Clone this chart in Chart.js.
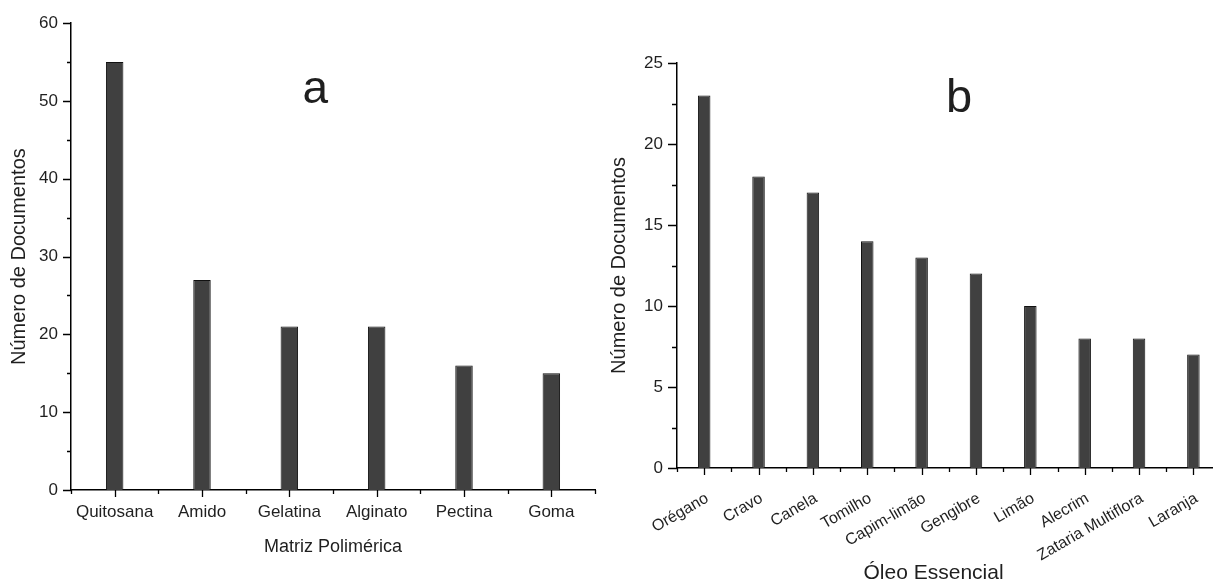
<!DOCTYPE html>
<html>
<head>
<meta charset="utf-8">
<script src="https://cdn.jsdelivr.net/npm/chart.js@4.4.1/dist/chart.umd.min.js"></script>
<style>
  html, body { margin: 0; padding: 0; background: #fff; overflow: hidden; width: 1213px; height: 581px; }
  #chartA { position: absolute; left: 0; top: 0; }
  #chartB { position: absolute; left: 600px; top: 0; }
</style>
</head>
<body>
<canvas id="chartA" width="600" height="581"></canvas>
<canvas id="chartB" width="624" height="581"></canvas>
<script>
// Panel a: polymer matrices
const matrixLabels = ['Quitosana', 'Amido', 'Gelatina', 'Alginato', 'Pectina', 'Goma'];
const matrixCounts = [55, 27, 21, 21, 16, 15];
const matrixYTicks = [0, 10, 20, 30, 40, 50, 60];

// Panel b: essential oils
const oilLabels = ['Orégano', 'Cravo', 'Canela', 'Tomilho', 'Capim-limão', 'Gengibre',
                   'Limão', 'Alecrim', 'Zataria Multiflora', 'Laranja'];
const oilCounts = [23, 18, 17, 14, 13, 12, 10, 8, 8, 7];
const oilYTicks = [0, 5, 10, 15, 20, 25];

const INK = '#1f1f1f';
const BAR_FILL = '#404040';
const BAR_EDGE = '#111111';
const SANS = '"Liberation Sans", Arial, sans-serif';

// Outward tick marks: long ones on categories / labelled values, short ones in between
const axisTicks = {
  id: 'axisTicks',
  afterDatasetsDraw(chart, args, opts) {
    const { ctx, scales: { x, y } } = chart;
    const n = chart.data.labels.length;
    ctx.save();
    ctx.strokeStyle = '#000';
    ctx.lineWidth = 1.3;
    ctx.beginPath();
    for (let i = 0; i < n; i++) {
      const px = Math.round(x.getPixelForValue(i)) + 0.5;
      ctx.moveTo(px, x.top);
      ctx.lineTo(px, x.top + opts.xMajor);
    }
    for (let i = 0; i <= n; i++) {
      const px = Math.round(x.getPixelForValue(i - 0.5)) + 0.5;
      ctx.moveTo(px, x.top);
      ctx.lineTo(px, x.top + opts.xMinor);
    }
    for (let v = y.min; v <= y.max + 1e-9; v += opts.yMinorStep) {
      const py = Math.round(y.getPixelForValue(v)) + 0.5;
      const r = v / opts.yMajorStep;
      const major = Math.abs(r - Math.round(r)) < 1e-6;
      ctx.moveTo(y.right, py);
      ctx.lineTo(y.right - (major ? opts.yMajor : opts.yMinor), py);
    }
    ctx.stroke();
    ctx.restore();
  }
};

// Free text placed relative to the plot area (panel letters, captions)
const captions = {
  id: 'captions',
  afterDraw(chart, args, opts) {
    const { ctx, chartArea: a } = chart;
    for (const c of opts.items) {
      ctx.save();
      ctx.font = c.font;
      ctx.fillStyle = INK;
      ctx.textAlign = 'center';
      ctx.textBaseline = c.baseline || 'alphabetic';
      ctx.fillText(c.text, a.left + c.fx * (a.right - a.left), a.top + c.fy * (a.bottom - a.top));
      ctx.restore();
    }
  }
};

function fixedTicks(values) {
  return scale => { scale.ticks = values.map(v => ({ value: v })); };
}

// ---- Panel a ----
new Chart(document.getElementById('chartA'), {
  type: 'bar',
  data: {
    labels: matrixLabels,
    datasets: [{
      data: matrixCounts,
      backgroundColor: BAR_FILL,
      borderColor: BAR_EDGE,
      borderWidth: 1,
      barPercentage: 0.2,
      categoryPercentage: 1
    }]
  },
  options: {
    responsive: false,
    animation: false,
    devicePixelRatio: 1,
    layout: { padding: { top: 23, right: 5, left: 0, bottom: 0 } },
    plugins: {
      legend: { display: false },
      tooltip: { enabled: false },
      axisTicks: { xMajor: 7, xMinor: 4, yMajor: 8, yMinor: 4, yMajorStep: 10, yMinorStep: 5 },
      captions: { items: [ { text: 'a', font: '46px "Liberation Sans"', fx: 0.466, fy: 0.171 } ] }
    },
    scales: {
      x: {
        grid: { display: false, drawTicks: false },
        border: { display: true, color: '#000', width: 1.5 },
        ticks: { color: INK, font: { family: SANS, size: 17 }, padding: 12, maxRotation: 0, autoSkip: false },
        title: { display: true, text: 'Matriz Polimérica', color: INK, font: { family: SANS, size: 18 }, padding: { top: 0, bottom: 23 } },
        afterFit: s => { s.height = 91; }
      },
      y: {
        min: 0, max: 60,
        afterBuildTicks: fixedTicks(matrixYTicks),
        grid: { display: false, drawTicks: false },
        border: { display: true, color: '#000', width: 1.5 },
        ticks: { color: INK, font: { family: SANS, size: 17 }, padding: 13 },
        title: { display: true, text: 'Número de Documentos', color: INK, font: { family: SANS, size: 20 }, padding: { top: 7, bottom: 0 } },
        afterFit: s => { s.width = 71; }
      }
    }
  },
  plugins: [axisTicks, captions]
});

// ---- Panel b ----
new Chart(document.getElementById('chartB'), {
  type: 'bar',
  data: {
    labels: oilLabels,
    datasets: [{
      data: oilCounts,
      backgroundColor: BAR_FILL,
      borderColor: BAR_EDGE,
      borderWidth: 1,
      barPercentage: 0.23,
      categoryPercentage: 1
    }]
  },
  options: {
    responsive: false,
    animation: false,
    devicePixelRatio: 1,
    layout: { padding: { top: 63, right: 0, left: 0, bottom: 0 } },
    plugins: {
      legend: { display: false },
      tooltip: { enabled: false },
      axisTicks: { xMajor: 7, xMinor: 4, yMajor: 9, yMinor: 5, yMajorStep: 5, yMinorStep: 2.5 },
      captions: { items: [
        { text: 'b', font: '47px "Liberation Sans"', fx: 0.519, fy: 0.121 },
        { text: 'Óleo Essencial', font: '21px "Liberation Sans"', fx: 0.472, fy: 1.259, baseline: 'middle' }
      ] }
    },
    scales: {
      x: {
        grid: { display: false, drawTicks: false },
        border: { display: true, color: '#000', width: 1.5 },
        ticks: { color: INK, font: { family: SANS, size: 16 }, padding: 21, labelOffset: 3,
                 minRotation: 30, maxRotation: 30, autoSkip: false },
        afterFit: s => { s.height = 113; }
      },
      y: {
        min: 0, max: 25,
        afterBuildTicks: fixedTicks(oilYTicks),
        grid: { display: false, drawTicks: false },
        border: { display: true, color: '#000', width: 1.5 },
        ticks: { color: INK, font: { family: SANS, size: 17 }, padding: 14 },
        title: { display: true, text: 'Número de Documentos', color: INK, font: { family: SANS, size: 20 }, padding: { top: 7, bottom: 0 } },
        afterFit: s => { s.width = 77; }
      }
    }
  },
  plugins: [axisTicks, captions]
});
</script>
</body>
</html>
